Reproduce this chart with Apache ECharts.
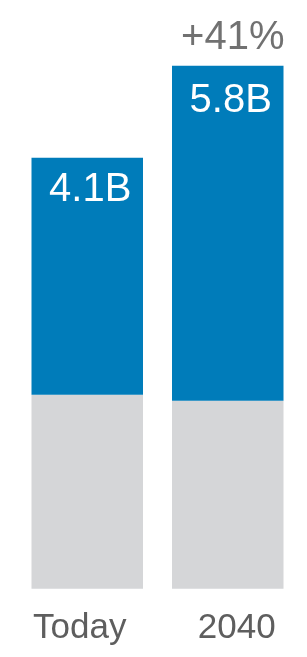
<!DOCTYPE html>
<html><head><meta charset="utf-8">
<script src="https://cdn.jsdelivr.net/npm/echarts@6/dist/echarts.min.js"></script>
<style>html,body{margin:0;padding:0;background:#fff}#c{width:307px;height:657px}</style>
</head><body><div id="c"></div>
<script>
const categories = ['Today', '2040'];
const baseValues = [1.94, 1.88];
const topValues = [2.37, 3.35];
const topLabels = ['4.1B', '5.8B'];
const changeLabels = ['', '+41%'];
const yMax = 5.887;

const chart = echarts.init(document.getElementById('c'));
const FONT = 'Liberation Sans, Arial, sans-serif';
chart.setOption({
  animation: false,
  grid: { left: 17, right: 9, top: 0, bottom: 68.3 },
  xAxis: {
    type: 'category', data: categories,
    axisLine: { show: false }, axisTick: { show: false },
    axisLabel: {
      interval: 0, hideOverlap: false,
      margin: 22, fontFamily: FONT, fontSize: 35, color: '#5e5e5e',
      formatter: (v, i) => i === 0 ? '{a|' + v + '}' : '{b|' + v + '}',
      rich: {
        a: { fontFamily: FONT, fontSize: 35, color: '#5e5e5e', padding: [0, 15, 0, 0] },
        b: { fontFamily: FONT, fontSize: 35, color: '#5e5e5e', padding: [0, 0, 0, 18] }
      }
    }
  },
  yAxis: { type: 'value', min: 0, max: yMax, show: false, splitLine: { show: false } },
  series: [
    { type: 'bar', stack: 's', data: baseValues, barWidth: 111.5,
      itemStyle: { color: '#D5D6D8' } },
    { type: 'bar', stack: 's', barWidth: 111.5,
      itemStyle: { color: '#007CBA' },
      data: topValues.map((v, i) => ({ value: v, label: { distance: i === 0 ? 12 : 15 } })),
      label: { show: true, position: 'insideTop', offset: [3, 0], fontFamily: FONT, fontSize: 40,
        color: '#fff', formatter: p => topLabels[p.dataIndex] } },
    { type: 'scatter', symbolSize: 0, silent: true,
      data: categories.map((c, i) => [i, baseValues[i] + topValues[i]]),
      label: { show: true, position: 'top', distance: 8, offset: [5, 0], fontFamily: FONT, fontSize: 40,
        color: '#4d4d4d', formatter: p => changeLabels[p.dataIndex] } }
  ]
});
</script></body></html>
